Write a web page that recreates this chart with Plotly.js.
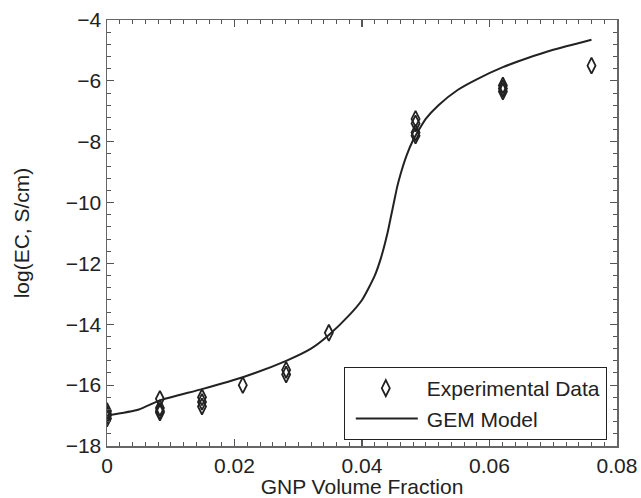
<!DOCTYPE html>
<html>
<head>
<meta charset="utf-8">
<script src="https://cdn.plot.ly/plotly-3.0.1.min.js"></script>
<style>html,body{margin:0;padding:0;background:#fff;}#chart{width:641px;height:498px;}</style>
</head>
<body>
<div id="chart"></div>
<script>
// Experimental data (GNP volume fraction, log EC)
const expX = [0,0,0,0, 0.0083,0.0083,0.0083,0.0083, 0.0149,0.0149,0.0149, 0.0213, 0.0281,0.0281, 0.0348, 0.0484,0.0484,0.0484,0.0484, 0.0621,0.0621,0.0621, 0.0760];
const expY = [-16.85,-16.95,-17.0,-17.1, -16.45,-16.75,-16.85,-16.9, -16.4,-16.55,-16.7, -16.0, -15.5,-15.65, -14.28, -7.25,-7.4,-7.7,-7.8, -6.15,-6.25,-6.35, -5.5];

// GEM model curve
const gemX = [0, 0.005, 0.0083, 0.0149, 0.0213, 0.0281, 0.032, 0.0348, 0.038, 0.040, 0.042, 0.043, 0.044, 0.0445, 0.045, 0.0455, 0.046, 0.047, 0.048, 0.0484, 0.050, 0.052, 0.055, 0.058, 0.0621, 0.066, 0.070, 0.076];
const gemY = [-17.0, -16.8, -16.5, -16.13, -15.74, -15.2, -14.8, -14.35, -13.7, -13.2, -12.4, -11.8, -11.0, -10.5, -10.0, -9.5, -9.1, -8.45, -7.95, -7.8, -7.25, -6.8, -6.3, -5.95, -5.55, -5.25, -4.98, -4.65];

const xTickVals = [0, 0.02, 0.04, 0.06, 0.08];
const xTickText = ['0', '0.02', '0.04', '0.06', '0.08'];
const names = ["Experimental Data", "GEM Model"];

const FONT = 'Liberation Sans, Arial, Helvetica, sans-serif';

const traces = [
  {x: expX, y: expY, type: 'scatter', mode: 'markers', name: names[0],
   marker: {symbol: 'diamond-tall-open', size: 11.5, color: '#222', line: {width: 1.8, color: '#222'}}},
  {x: gemX, y: gemY, type: 'scatter', mode: 'lines', name: names[1],
   line: {color: '#222', width: 2, shape: 'spline', smoothing: 0.6}}
];

const axCommon = {
  showgrid: false, zeroline: false, showline: true, linecolor: '#666', linewidth: 1.5,
  mirror: 'ticks', ticks: 'inside', ticklen: 7, tickwidth: 1.2, tickcolor: '#555',
  tickfont: {family: FONT, size: 21, color: '#222'}
};

const layout = {
  width: 641, height: 498,
  margin: {l: 107, r: 24, t: 20, b: 52},
  paper_bgcolor: '#fff', plot_bgcolor: '#fff',
  font: {family: FONT, color: '#222'},
  xaxis: Object.assign({}, axCommon, {
    range: [0, 0.08], tickvals: xTickVals, ticktext: xTickText,
    minor: {dtick: 0.002, ticks: 'inside', ticklen: 4, tickcolor: '#555', tickwidth: 1},
    title: {text: 'GNP Volume Fraction', font: {family: FONT, size: 21, color: '#222'}, standoff: 2}
  }),
  yaxis: Object.assign({}, axCommon, {
    range: [-18, -4], dtick: 2, tick0: -18,
    minor: {dtick: 0.4, tick0: -18, ticks: 'inside', ticklen: 4, tickcolor: '#555', tickwidth: 1},
    title: {text: 'log(EC, S/cm)', font: {family: FONT, size: 21, color: '#222'}, standoff: 30}
  }),
  showlegend: true,
  legend: {x: 0.98, y: 0.014, xanchor: 'right', yanchor: 'bottom',
    bgcolor: '#fff', bordercolor: '#222', borderwidth: 1,
    font: {family: FONT, size: 21, color: '#222'},
    itemwidth: 72, tracegroupgap: 0}
};

Plotly.newPlot('chart', traces, layout, {displayModeBar: false, staticPlot: true}).then(function () {
  // widen the legend line sample and centre the marker sample, as in the original figure
  document.querySelectorAll('.legend .legendlines path').forEach(function (p) {
    p.setAttribute('d', 'M11,0h62');
  });
  document.querySelectorAll('.legend .legendpoints path.scatterpts').forEach(function (p) {
    p.setAttribute('transform', 'translate(41,0)');
  });
});
</script>
</body>
</html>
